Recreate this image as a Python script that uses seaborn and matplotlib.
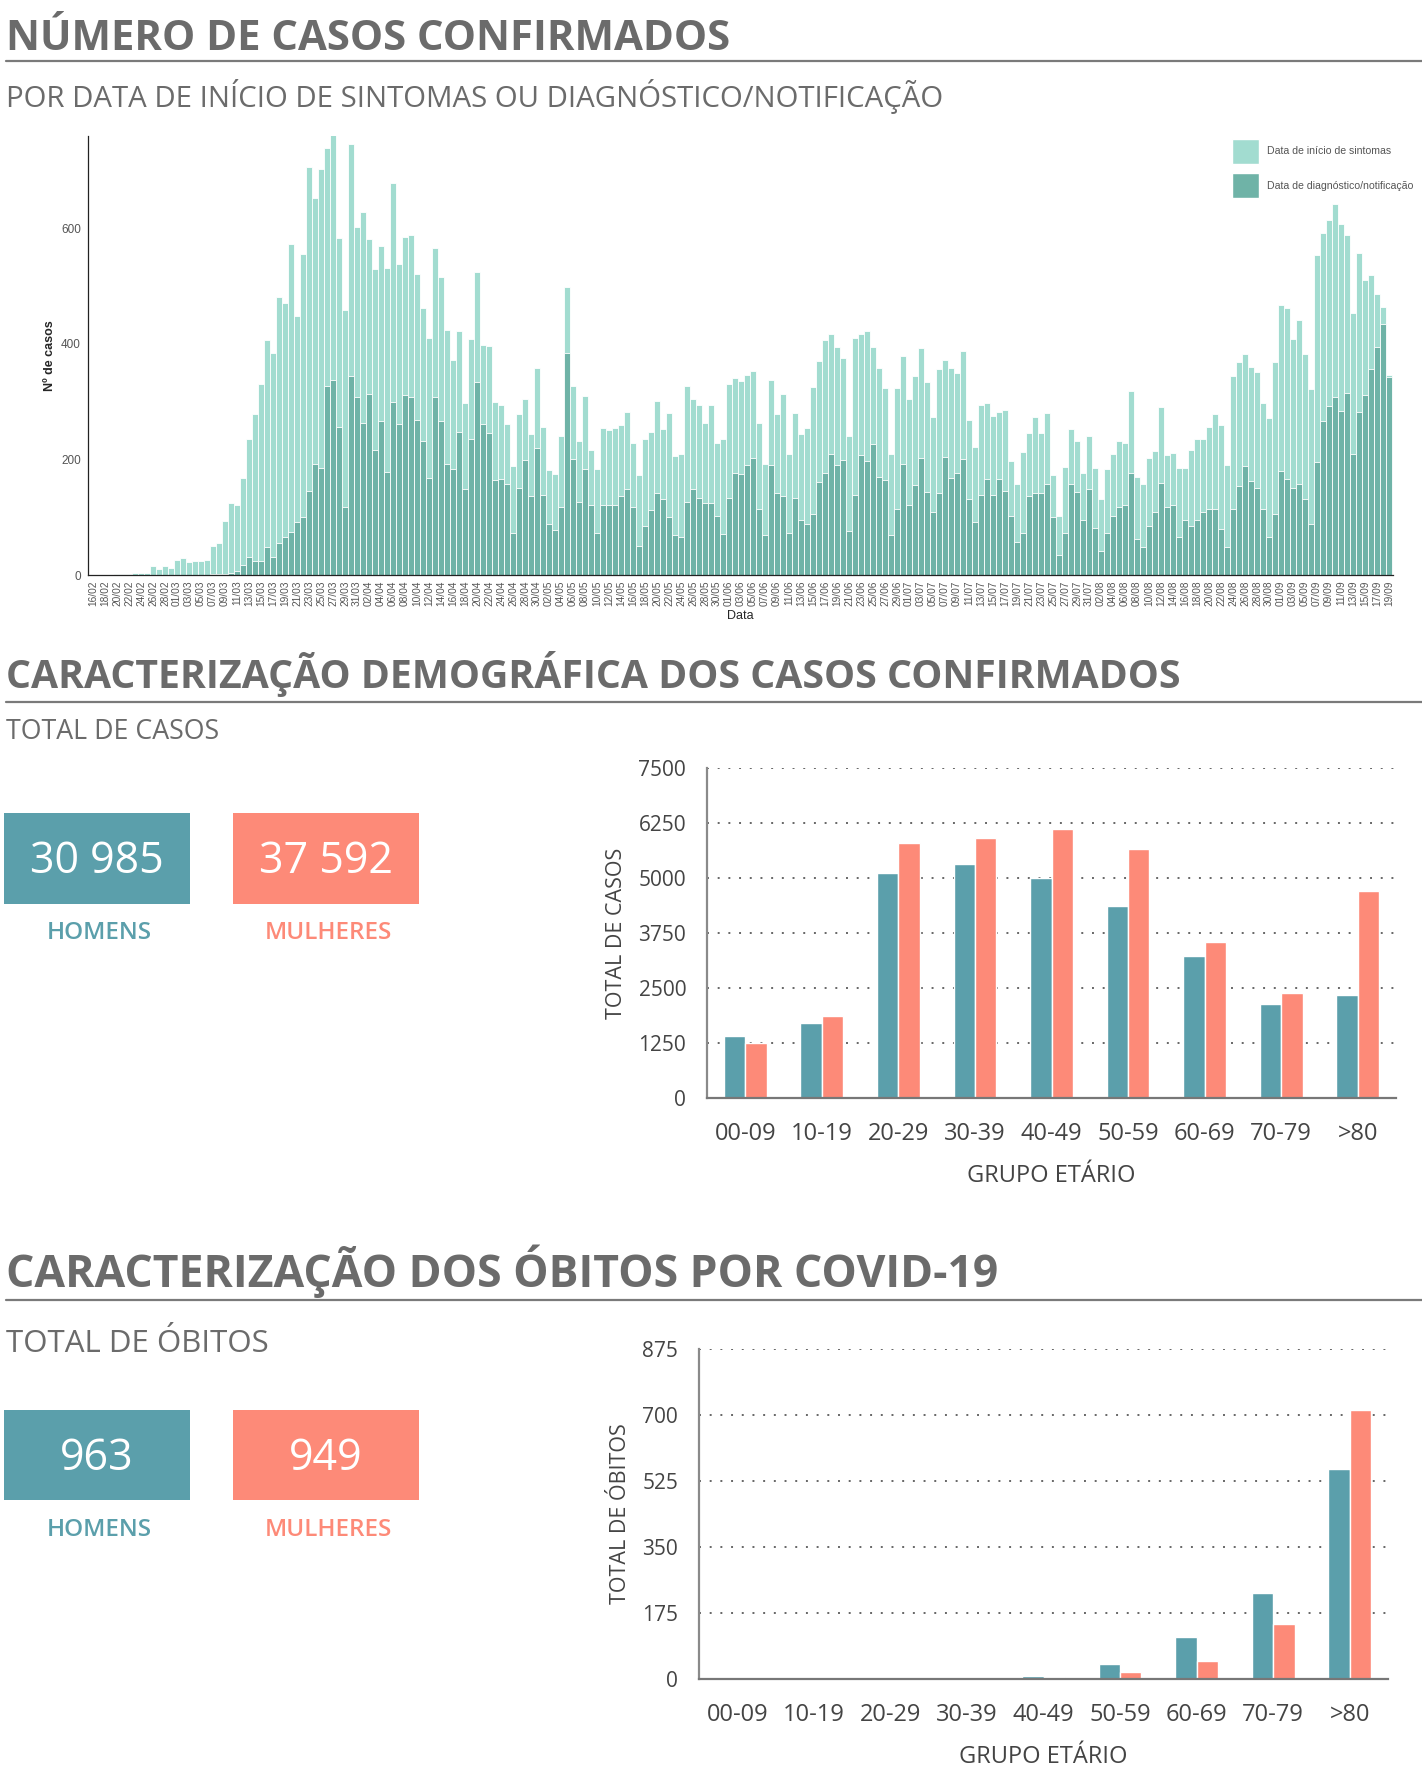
import numpy as np
import pandas as pd
import matplotlib
matplotlib.use("Agg")
import matplotlib.pyplot as plt
from matplotlib.patches import Patch, Rectangle
from matplotlib.lines import Line2D
import seaborn as sns

# Casos diarios (16/02 a 19/09)
datas = pd.date_range("2020-02-16", "2020-09-19").strftime("%d/%m").tolist()

casos_sintomas = [
    0, 0, 0, 0, 1, 1, 1, 4, 3, 4,
    16, 10, 16, 12, 26, 29, 23, 25, 24, 26,
    51, 55, 93, 125, 122, 168, 235, 278, 330, 407,
    384, 481, 471, 573, 449, 555, 707, 653, 703, 739,
    761, 584, 459, 747, 602, 629, 582, 530, 570, 532,
    679, 539, 585, 589, 521, 463, 411, 566, 516, 424,
    373, 422, 298, 409, 525, 399, 396, 299, 294, 262,
    188, 279, 305, 244, 358, 256, 181, 175, 240, 498,
    328, 232, 310, 216, 183, 255, 251, 255, 260, 282,
    228, 173, 236, 248, 301, 252, 281, 206, 209, 328,
    305, 295, 264, 294, 228, 236, 330, 341, 336, 346,
    354, 264, 193, 338, 279, 314, 209, 281, 244, 255,
    326, 370, 407, 418, 394, 375, 241, 410, 418, 422,
    394, 358, 323, 209, 323, 379, 305, 344, 393, 334,
    273, 356, 372, 358, 349, 387, 268, 222, 295, 297,
    276, 282, 286, 198, 158, 213, 245, 273, 245, 281,
    173, 102, 187, 252, 232, 176, 241, 186, 131, 183,
    209, 232, 229, 319, 169, 157, 202, 215, 290, 207,
    211, 186, 186, 216, 235, 236, 256, 278, 259, 191,
    344, 368, 382, 360, 352, 297, 271, 368, 467, 462,
    409, 441, 382, 322, 554, 592, 614, 642, 608, 589,
    453, 557, 511, 519, 487, 464, 347,
]

casos_diagnostico = [
    0, 0, 0, 0, 0, 0, 0, 0, 0, 0,
    0, 0, 0, 0, 0, 0, 0, 0, 0, 0,
    1, 1, 2, 4, 7, 17, 31, 25, 25, 48,
    31, 56, 66, 75, 92, 101, 145, 193, 186, 327,
    338, 256, 118, 344, 309, 264, 314, 217, 267, 179,
    300, 261, 312, 308, 269, 232, 168, 308, 267, 193,
    184, 247, 149, 236, 334, 262, 245, 165, 167, 157,
    72, 151, 199, 137, 219, 139, 88, 78, 117, 384,
    200, 127, 184, 121, 73, 122, 122, 122, 137, 149,
    117, 51, 85, 112, 142, 131, 101, 70, 66, 126,
    149, 133, 125, 125, 102, 71, 133, 176, 174, 190,
    202, 115, 70, 190, 142, 137, 72, 133, 96, 88,
    105, 161, 176, 209, 190, 199, 76, 139, 207, 198,
    226, 170, 165, 69, 115, 193, 122, 156, 202, 144,
    109, 142, 205, 168, 176, 201, 132, 92, 138, 167,
    138, 167, 146, 103, 57, 72, 137, 142, 142, 157,
    101, 35, 73, 157, 144, 95, 149, 82, 42, 72,
    103, 118, 122, 177, 62, 48, 85, 109, 160, 117,
    121, 65, 95, 84, 96, 109, 114, 115, 79, 49,
    114, 154, 188, 163, 151, 114, 65, 105, 180, 167,
    151, 158, 132, 88, 195, 267, 293, 308, 284, 315,
    209, 282, 312, 357, 394, 435, 343,
]

# Grupos etarios
grupos = ["00-09", "10-19", "20-29", "30-39", "40-49", "50-59", "60-69", "70-79", ">80"]
casos_homens = [1412, 1695, 5110, 5316, 5008, 4366, 3236, 2131, 2337]
casos_mulheres = [1258, 1875, 5804, 5906, 6112, 5650, 3544, 2388, 4700]
obitos_homens = [0, 0, 0, 1, 9, 39, 111, 228, 558]
obitos_mulheres = [0, 0, 0, 0, 6, 18, 48, 147, 712]

total_casos = ["30 985", "37 592"]
total_obitos = ["963", "949"]
sexos = ["HOMENS", "MULHERES"]

# cores
LIGHT = "#a2dcd0"
DARK = "#6fb3a7"
TEAL = "#5b9fab"
SALMON = "#fd8a78"
GREY_TITLE = "#6b6b6b"
GREY_TXT = "#444444"

W, H = 1422, 1772
sns.set_style("white")
plt.rcParams["font.family"] = ["Open Sans", "DejaVu Sans"]

fig = plt.figure(figsize=(W / 100, H / 100), dpi=100)


def fx(x):
    return x / W


def fy(y):
    return 1 - y / H


def rect(l, t, r, b):
    return [l / W, 1 - b / H, (r - l) / W, (b - t) / H]


def section_title(text, y_base, y_line, size):
    fig.text(fx(6), fy(y_base), text, fontsize=size, fontweight="bold",
             color=GREY_TITLE, va="baseline", ha="left")
    fig.add_artist(Line2D([fx(6), 1], [fy(y_line), fy(y_line)],
                          color="#7a7a7a", lw=1.6, transform=fig.transFigure))


def sub_title(text, y_base, size):
    fig.text(fx(6), fy(y_base), text, fontsize=size, color=GREY_TITLE,
             va="baseline", ha="left")


def total_boxes(valores, y_top, y_bottom, y_num, y_lab):
    for (l, r), val, lab, col in zip([(4, 190), (233, 419)], valores, sexos, [TEAL, SALMON]):
        fig.add_artist(Rectangle((fx(l), fy(y_bottom)), (r - l) / W, (y_bottom - y_top) / H,
                                 facecolor=col, edgecolor="none", transform=fig.transFigure))
        cx = (l + r) / 2
        fig.text(fx(cx), fy(y_num), val, fontsize=31, color="white",
                 ha="center", va="baseline")
        fig.text(fx(cx + 2), fy(y_lab), lab, fontsize=17.5, color=col,
                 fontweight="semibold", ha="center", va="baseline")


def age_chart(ax, homens, mulheres, ymax, step, ylabel):
    df = pd.DataFrame({
        "grupo": grupos * 2,
        "sexo": ["Homens"] * len(grupos) + ["Mulheres"] * len(grupos),
        "total": homens + mulheres,
    })
    sns.barplot(data=df, x="grupo", y="total", hue="sexo", palette=[TEAL, SALMON],
                width=0.56, gap=0, saturation=1, legend=False, ax=ax)
    ax.set_ylim(0, ymax)
    ax.set_xlim(-0.5, len(grupos) - 0.5)
    ax.set_yticks(np.arange(0, ymax + 1, step))
    ax.set_yticklabels([f"{int(v)}" for v in np.arange(0, ymax + 1, step)])
    ax.yaxis.grid(True, linestyle=(0, (1, 4.5)), color="#666666", linewidth=1.4)
    ax.xaxis.grid(False)
    ax.set_axisbelow(True)
    for s in ["top", "right"]:
        ax.spines[s].set_visible(False)
    ax.spines["left"].set_color("#8a8a8a")
    ax.spines["left"].set_linewidth(1.6)
    ax.spines["bottom"].set_color("#777777")
    ax.spines["bottom"].set_linewidth(1.6)
    ax.tick_params(axis="y", length=0, pad=15, labelsize=15, labelcolor=GREY_TXT)
    ax.tick_params(axis="x", length=0, pad=17, labelsize=17, labelcolor=GREY_TXT)
    ax.set_xlabel("GRUPO ETÁRIO", fontsize=17, color=GREY_TXT, labelpad=13)
    ax.set_ylabel(ylabel, fontsize=15.5, color=GREY_TXT, labelpad=8)


# ---- Numero de casos confirmados ----
section_title("NÚMERO DE CASOS CONFIRMADOS", 50, 61, 30.2)
sub_title("POR DATA DE INÍCIO DE SINTOMAS OU DIAGNÓSTICO/NOTIFICAÇÃO", 107, 21.2)

ax1 = fig.add_axes(rect(88, 136, 1393, 575))
df_dia = pd.DataFrame({"data": datas, "sintomas": casos_sintomas,
                       "diagnostico": casos_diagnostico})
sns.barplot(data=df_dia, x="data", y="sintomas", color=LIGHT, saturation=1,
            width=0.95, edgecolor="white", linewidth=0.6, ax=ax1)
sns.barplot(data=df_dia, x="data", y="diagnostico", color=DARK, saturation=1,
            width=0.95, edgecolor="white", linewidth=0.6, ax=ax1)
ax1.set_xlim(-0.83, len(datas) - 0.33)
ax1.set_ylim(0, 760)
ax1.set_xticks(range(0, len(datas), 2))
ax1.set_xticklabels(datas[::2], rotation=90, fontsize=7.3, color="#555555",
                    family="Liberation Sans")
ax1.set_yticks([0, 200, 400, 600])
ax1.set_yticklabels(["0", "200", "400", "600"], fontsize=8.5, color="#555555",
                    family="Liberation Sans")
for s in ["top", "right"]:
    ax1.spines[s].set_visible(False)
for s in ["left", "bottom"]:
    ax1.spines[s].set_color("#222222")
    ax1.spines[s].set_linewidth(0.9)
ax1.tick_params(axis="x", length=3, width=0.6, pad=1)
ax1.tick_params(axis="y", length=3, width=0.6, pad=2)
ax1.set_xlabel("Data", fontsize=9, family="Liberation Sans", labelpad=3)
ax1.set_ylabel("Nº de casos", fontsize=9, fontweight="bold",
               family="Liberation Sans", labelpad=4)

handles = [Patch(facecolor=LIGHT, label="Data de início de sintomas"),
           Patch(facecolor=DARK, label="Data de diagnóstico/notificação")]
leg = fig.legend(handles=handles, loc="upper left", bbox_to_anchor=(fx(1222), fy(129)),
                 frameon=False, handlelength=2.6, handleheight=3.3, labelspacing=0.9,
                 handletextpad=0.8, prop={"family": "Liberation Sans", "size": 7.6})
for t in leg.get_texts():
    t.set_color("#555555")

# ---- Caracterizacao demografica ----
section_title("CARACTERIZAÇÃO DEMOGRÁFICA DOS CASOS CONFIRMADOS", 688, 702, 28.3)
sub_title("TOTAL DE CASOS", 739, 19.3)
total_boxes(total_casos, 813, 904, 873, 939)

ax2 = fig.add_axes(rect(707, 768, 1396, 1098))
age_chart(ax2, casos_homens, casos_mulheres, 7500, 1250, "TOTAL DE CASOS")

# ---- Obitos ----
section_title("CARACTERIZAÇÃO DOS ÓBITOS POR COVID-19", 1287, 1300, 32)
sub_title("TOTAL DE ÓBITOS", 1352, 22.5)
total_boxes(total_obitos, 1410, 1500, 1470, 1536)

ax3 = fig.add_axes(rect(699, 1349, 1388, 1679))
age_chart(ax3, obitos_homens, obitos_mulheres, 875, 175, "TOTAL DE ÓBITOS")

fig.savefig("out.png", dpi=100)
